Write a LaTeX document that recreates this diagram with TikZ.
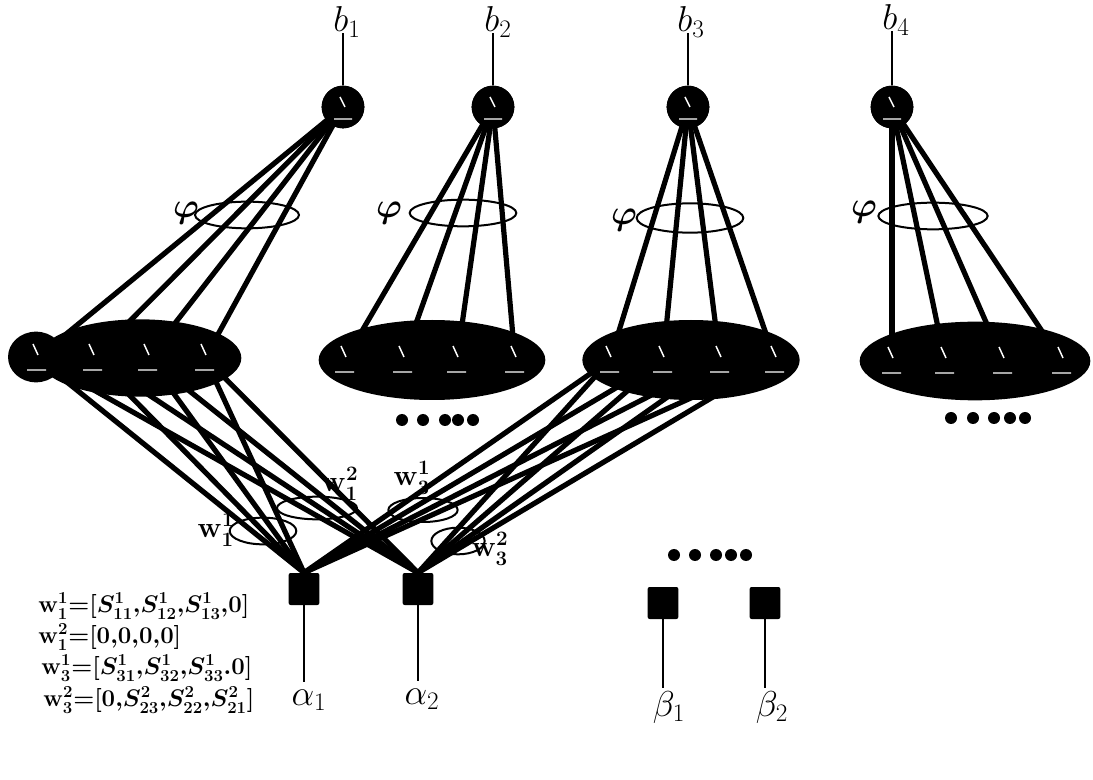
\RequirePackage{fix-cm}
\documentclass[tikz,border=0pt]{standalone}
\usepackage{amsmath,bm}
\usetikzlibrary{shapes.geometric,calc}
\begin{document}
\begin{tikzpicture}[x=0.75pt,y=-0.75pt,
  conn/.style={line width=3.9pt},
  ring/.style={draw, line width=1.5pt},
  topn/.style={circle, fill=black, minimum size=32pt, inner sep=0pt},
  hid/.style={circle, minimum size=30pt, inner sep=0pt},
  layer/.style={ellipse, fill=black, inner sep=0pt},
  sq/.style={fill=black, rounded corners=1.5pt, minimum width=23pt, minimum height=24pt, inner sep=0pt},
  lbl/.style={font=\fontsize{27}{30}\selectfont, inner sep=0pt},
  phil/.style={font=\fontsize{26}{30}\selectfont, inner sep=0pt},
  wl/.style={font=\fontsize{22}{24}\selectfont\boldmath, inner sep=0pt},
  eq/.style={font=\fontsize{18}{20}\selectfont\boldmath, anchor=west, inner sep=0pt},
  wire/.style={line width=1.6pt},
  glyph/.style={white, line width=1.1pt},
]
\useasboundingbox (0,0) rectangle (1093,780);

% top neurons
\node[topn] (t1) at (343,107) {};
\node[topn] (t2) at (493,107) {};
\node[topn] (t3) at (688,107) {};
\node[topn] (t4) at (892,107) {};

% hidden neurons
\foreach \x [count=\i] in {37,93,148,205} \node[hid] (h1\i) at (\x,358) {};
\foreach \x [count=\i] in {345,403,457,515} \node[hid] (h2\i) at (\x,360) {};
\foreach \x [count=\i] in {610,663,720,775} \node[hid] (h3\i) at (\x,360) {};
\foreach \x [count=\i] in {892,945,1003,1062} \node[hid] (h4\i) at (\x,361) {};

% input squares
\node[sq] (a1) at (304,589) {};
\node[sq] (a2) at (418,589) {};
\node[sq] (b1) at (663,603) {};
\node[sq] (b2) at (765,603) {};

% connections top
\foreach \k in {1,2,3,4}{
  \foreach \i in {1,2,3,4}{
    \draw[conn] (t\k.center) -- (h\k\i.center);
  }
}
% connections bottom
\foreach \k in {1,3}{
  \foreach \i in {1,2,3,4}{
    \draw[conn] (h\k\i.center) -- (a1.north);
    \draw[conn] (h\k\i.center) -- (a2.north);
  }
}

% layer ellipses
\node[layer, minimum width=152pt, minimum height=58pt] (L1) at (140,358) {};
\node[layer, minimum width=42pt, minimum height=38pt] (L1b) at (36,357) {};
\node[layer, minimum width=170pt, minimum height=60pt] (L2) at (432,360) {};
\node[layer, minimum width=163pt, minimum height=60pt] (L3) at (691,360) {};
\node[layer, minimum width=173pt, minimum height=59pt] (L4) at (975,361) {};

% redraw top neurons over lines
\foreach \k in {1,2,3,4} \fill (t\k) circle[radius=16pt];

% glyphs inside neurons
\foreach \n in {t1,t2,t3,t4}
  \draw[glyph] ($(\n)+(-3,-10)$) -- ($(\n)+(2,0)$) ($(\n)+(-9,12)$) -- ($(\n)+(9,12)$);
\foreach \k in {1,2,3,4}{
  \foreach \i in {1,2,3,4}{
    \draw[glyph] ($(h\k\i)+(-4,-14)$) -- ($(h\k\i)+(1,-3)$) ($(h\k\i)+(-10,12)$) -- ($(h\k\i)+(9,12)$);
  }
}

% phi rings
\draw[ring] (247,215) ellipse [x radius=39pt, y radius=10pt];
\draw[ring] (463,213) ellipse [x radius=40pt, y radius=10pt];
\draw[ring] (690,218) ellipse [x radius=40pt, y radius=11pt];
\draw[ring] (933,216) ellipse [x radius=41pt, y radius=10pt];
\node[phil] (p1) at (186,213) {$\bm{\varphi}$};
\node[phil] (p2) at (389,213) {$\bm{\varphi}$};
\node[phil] (p3) at (624,220) {$\bm{\varphi}$};
\node[phil] (p4) at (864,212) {$\bm{\varphi}$};

% weight rings
\draw[ring] (263,531) ellipse [x radius=25pt, y radius=10pt];
\draw[ring] (317,508) ellipse [x radius=30pt, y radius=8.5pt];
\draw[ring] (423,510) ellipse [x radius=26pt, y radius=9pt];
\draw[ring] (458,541) ellipse [x radius=20pt, y radius=10pt];
\node[wl] (w11) at (216,530) {$\mathbf{w}_1^1$};
\node[wl] (w12) at (340,484) {$\mathbf{w}_1^2$};
\node[wl] (w31) at (412,478) {$\mathbf{w}_3^1$};
\node[wl] (w32) at (490,549) {$\mathbf{w}_3^2$};

% dots
\foreach \x in {402,423,445,458,473} \fill (\x,420) circle[radius=4.5pt];
\foreach \x in {951,973,994,1010,1025} \fill (\x,418) circle[radius=4.5pt];
\foreach \x in {674,695,716,731,746} \fill (\x,555) circle[radius=4.5pt];

% bias labels
\node[lbl] (lb1) at (347,22) {$b_1$};
\node[lbl] (lb2) at (498,22) {$b_2$};
\node[lbl] (lb3) at (691,22) {$b_3$};
\node[lbl] (lb4) at (896,20) {$b_4$};
\foreach \k in {1,2,3,4} \draw[wire] ($(t\k.north |- lb\k.south)+(0,-4)$) -- (t\k.north);

% input labels
\node[lbl] (la1) at (309,700) {$\alpha_1$};
\node[lbl] (la2) at (422,699) {$\alpha_2$};
\node[lbl] (lbe1) at (669,707) {$\beta_1$};
\node[lbl] (lbe2) at (772,707) {$\beta_2$};
\draw[wire] (a1.south) -- ($(a1.south |- la1.north)+(0,-7)$);
\draw[wire] (a2.south) -- ($(a2.south |- la2.north)+(0,-7)$);
\draw[wire] (b1.south) -- ($(b1.south |- lbe1.north)+(0,-3)$);
\draw[wire] (b2.south) -- ($(b2.south |- lbe2.north)+(0,-3)$);

% equations
\node[eq] (e1) at (38,606) {$\mathbf{w}_1^1{=}[S_{11}^1{,}S_{12}^1{,}S_{13}^1{,}0]$};
\node[eq] (e2) at (38,637) {$\mathbf{w}_1^2{=}[0{,}0{,}0{,}0]$};
\node[eq] (e3) at (41,668) {$\mathbf{w}_3^1{=}[S_{31}^1{,}S_{32}^1{,}S_{33}^1.0]$};
\node[eq] (e4) at (43,700) {$\mathbf{w}_3^2{=}[0{,}S_{23}^2{,}S_{22}^2{,}S_{21}^2]$};
\end{tikzpicture}
\end{document}
